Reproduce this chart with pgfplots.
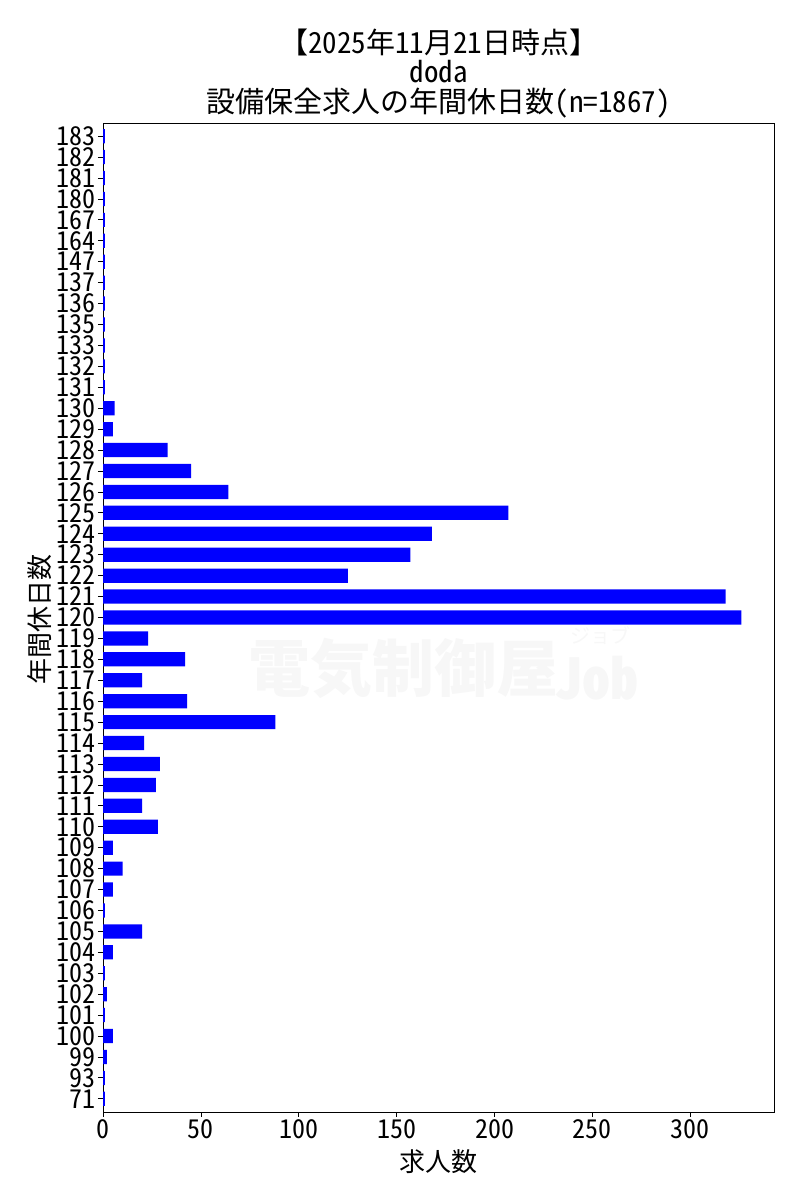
\documentclass[border=0pt]{standalone}
\usepackage{fontspec}
\setmainfont{Noto Sans CJK JP}[RawFeature=+hwid]
\usepackage{pgfplots}
\pgfplotsset{compat=1.18}
\usepackage{pgfplotstable}

\pgfplotstableread{
idx val
0 1
1 1
2 2
3 5
4 1
5 2
6 1
7 5
8 20
9 1
10 5
11 10
12 5
13 28
14 20
15 27
16 29
17 21
18 88
19 43
20 20
21 42
22 23
23 326
24 318
25 125
26 157
27 168
28 207
29 64
30 45
31 33
32 5
33 6
34 1
35 1
36 1
37 1
38 1
39 1
40 1
41 1
42 1
43 1
44 1
45 1
46 1
}\datatable

\begin{document}
\begin{tikzpicture}
\useasboundingbox (0pt,0pt) rectangle (800pt,1200pt);
% watermark
\node[text=black!3, font=\fontsize{62}{62}\selectfont\bfseries, anchor=west, inner sep=0] at (248pt,532pt) {電気制御屋};
\node[text=black!3, font=\fontsize{56}{56}\selectfont\bfseries, anchor=west, inner sep=0] at (554pt,522pt) {Job};
\node[text=black!3, font=\fontsize{20}{20}\selectfont, anchor=west, inner sep=0] at (570pt,565pt) {ジョブ};
\begin{axis}[
  at={(103pt,88pt)}, anchor=south west,
  scale only axis, width=671pt, height=989pt,
  xbar, bar width=0.68,
  xmin=0, xmax=342.7,
  ymin=-0.63, ymax=46.63,
  xtick={0,50,100,150,200,250,300},
  ytick={0,...,46},
  yticklabels={71,93,99,100,101,102,103,104,105,106,107,108,109,110,111,112,113,114,115,116,117,118,119,120,121,122,123,124,125,126,127,128,129,130,131,132,133,135,136,137,147,164,167,180,181,182,183},
  tick align=outside, major tick length=5pt,
  xtick pos=left, ytick pos=left,
  tick style={black, line width=0.8pt},
  axis line style={black, line width=0.8pt},
  ticklabel style={font=\fontsize{26}{28}\selectfont},
  /pgf/number format/assume math mode=true,
  yticklabel style={inner xsep=2pt, inner ysep=0pt, text height=18.5pt, text depth=0pt},
  xticklabel style={inner sep=2pt},
]
\addplot[fill={rgb,255:red,0;green,0;blue,255}, draw=none] table[x=val, y=idx] {\datatable};
\end{axis}
% titles
\node[anchor=base, font=\fontsize{29}{32}\selectfont, inner sep=0] at (438.5pt,1146pt) {【2025年11月21日時点】};
\node[anchor=base, font=\fontsize{29}{32}\selectfont, inner sep=0] at (438.5pt,1117pt) {doda};
\node[anchor=base, font=\fontsize{29}{32}\selectfont, inner sep=0] at (438.5pt,1087pt) {設備保全求人の年間休日数(n=1867)};
% axis labels
\node[font=\fontsize{26}{28}\selectfont, rotate=90, inner sep=0] at (40pt,580pt) {年間休日数};
\node[font=\fontsize{26}{28}\selectfont, inner sep=0] at (438.5pt,38pt) {求人数};
\end{tikzpicture}
\end{document}
